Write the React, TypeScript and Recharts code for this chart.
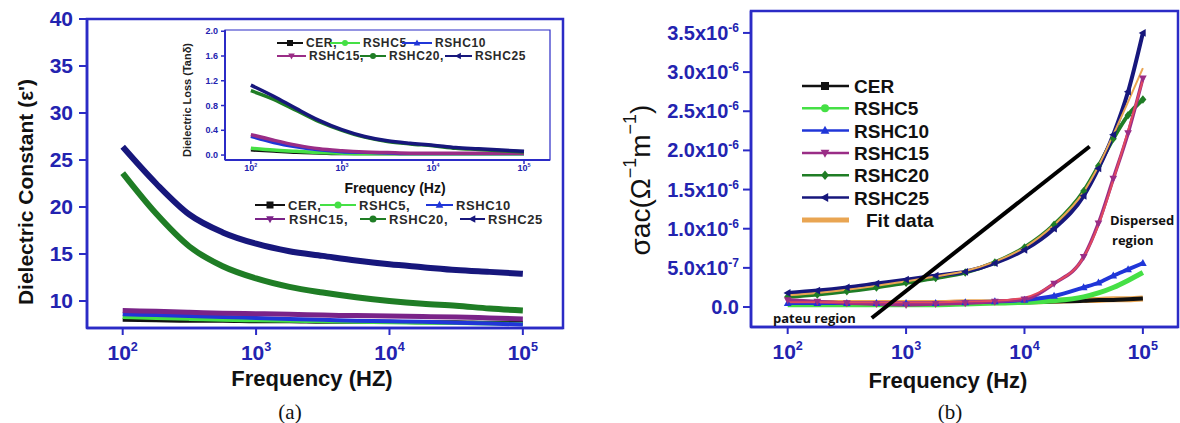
import React from 'react';
import { LineChart, Line, XAxis, YAxis, ReferenceLine, ReferenceArea } from 'recharts';

// ---- panel (a): dielectric constant vs frequency ----
const freqA = [100, 178, 316, 562, 1000, 1778, 3162, 5623, 10000, 17783, 31623, 56234, 100000];
const epsCER = [8.0, 7.95, 7.9, 7.9, 7.85, 7.85, 7.8, 7.8, 7.8, 7.75, 7.75, 7.7, 7.7];
const epsR5 = [8.3, 8.2, 8.1, 8.0, 7.95, 7.9, 7.85, 7.8, 7.75, 7.7, 7.65, 7.6, 7.55];
const epsR10 = [8.6, 8.5, 8.4, 8.3, 8.2, 8.1, 8.0, 7.9, 7.85, 7.8, 7.7, 7.6, 7.5];
const epsR15 = [9.0, 8.9, 8.8, 8.7, 8.65, 8.6, 8.5, 8.45, 8.4, 8.35, 8.3, 8.2, 8.1];
const epsR20 = [23.6, 19.3, 15.8, 13.7, 12.4, 11.5, 10.9, 10.4, 10.0, 9.7, 9.5, 9.2, 9.0];
const epsR25 = [26.4, 22.5, 19.2, 17.3, 16.1, 15.3, 14.8, 14.3, 13.9, 13.6, 13.3, 13.1, 12.9];

// inset: dielectric loss (tan delta)
const tanCER = [0.08, 0.06, 0.04, 0.03, 0.02, 0.02, 0.02, 0.02, 0.02, 0.02, 0.02, 0.02, 0.02];
const tanR5 = [0.11, 0.08, 0.06, 0.04, 0.03, 0.02, 0.02, 0.02, 0.02, 0.02, 0.02, 0.02, 0.02];
const tanR10 = [0.3, 0.2, 0.13, 0.08, 0.05, 0.04, 0.03, 0.02, 0.02, 0.02, 0.02, 0.02, 0.02];
const tanR15 = [0.33, 0.24, 0.16, 0.1, 0.07, 0.05, 0.04, 0.03, 0.03, 0.03, 0.03, 0.03, 0.03];
const tanR20 = [1.04, 0.9, 0.72, 0.54, 0.4, 0.29, 0.22, 0.18, 0.15, 0.11, 0.09, 0.07, 0.05];
const tanR25 = [1.13, 0.95, 0.75, 0.56, 0.41, 0.3, 0.23, 0.19, 0.16, 0.12, 0.1, 0.08, 0.06];

// ---- panel (b): ac conductivity, in units of 1e-6 S/m ----
const freqB = [100, 178, 316, 562, 1000, 1778, 3162, 5623, 10000, 17783, 31623, 42170, 56234, 74989, 100000];
const sigCER = [0.04, 0.04, 0.04, 0.04, 0.04, 0.04, 0.05, 0.05, 0.06, 0.07, 0.08, 0.09, 0.09, 0.1, 0.11];
const sigR5 = [0.03, 0.03, 0.03, 0.03, 0.03, 0.03, 0.04, 0.05, 0.06, 0.08, 0.13, 0.18, 0.25, 0.34, 0.44];
const sigR10 = [0.05, 0.05, 0.05, 0.05, 0.05, 0.05, 0.06, 0.07, 0.09, 0.14, 0.25, 0.31, 0.4, 0.48, 0.56];
const sigR15 = [0.09, 0.07, 0.05, 0.04, 0.03, 0.04, 0.05, 0.07, 0.1, 0.3, 0.64, 1.07, 1.64, 2.22, 2.92];
const sigR20 = [0.13, 0.16, 0.2, 0.25, 0.31, 0.37, 0.44, 0.57, 0.76, 1.05, 1.48, 1.8, 2.15, 2.45, 2.65];
const sigR25 = [0.18, 0.21, 0.25, 0.3, 0.35, 0.4, 0.45, 0.56, 0.73, 1.0, 1.42, 1.77, 2.2, 2.75, 3.5];
const fitHigh = [0.15, 0.18, 0.22, 0.27, 0.33, 0.39, 0.46, 0.58, 0.76, 1.05, 1.47, 1.8, 2.2, 2.62, 3.05];
const fitMid = [0.06, 0.06, 0.06, 0.06, 0.06, 0.06, 0.07, 0.08, 0.12, 0.3, 0.64, 1.05, 1.62, 2.25, 2.9];
const fitLow = [0.05, 0.05, 0.05, 0.05, 0.05, 0.05, 0.06, 0.06, 0.07, 0.08, 0.09, 0.09, 0.1, 0.1, 0.11];

const decades = [100, 1000, 10000, 100000];
const epsTicks = [10, 15, 20, 25, 30, 35, 40];
const tanTicks = [0, 0.2, 0.4, 0.6, 0.8, 1.0, 1.2, 1.4, 1.6, 1.8, 2.0];
const sigTicks = [0, 0.5, 1.0, 1.5, 2.0, 2.5, 3.0, 3.5];

// axis ranges
const domA = { x: [54, 200000], y: [7.13, 40] };
const domIn = { x: [52, 193000], y: [-0.08, 2.02] };
const domB = { x: [49, 198000], y: [-0.255, 3.78] };

const mainRows = freqA.map((f, i) => ({
  f, cer: epsCER[i], r5: epsR5[i], r10: epsR10[i], r15: epsR15[i], r20: epsR20[i], r25: epsR25[i],
}));
const insetRows = freqA.map((f, i) => ({
  f, cer: tanCER[i], r5: tanR5[i], r10: tanR10[i], r15: tanR15[i], r20: tanR20[i], r25: tanR25[i],
}));
const condRows = freqB.map((f, i) => ({
  f, cer: sigCER[i], r5: sigR5[i], r10: sigR10[i], r15: sigR15[i], r20: sigR20[i], r25: sigR25[i],
  fh: fitHigh[i], fm: fitMid[i], fl: fitLow[i],
}));

const FONT = '"Liberation Sans", Arial, Helvetica, sans-serif';
const AXIS = '#2b2bc6';
const TICK = '#2323b0';
const COL = {
  cer: '#111111', r5: '#45e045', r10: '#2036d8', r15: '#7a2388', r20: '#1f7d25', r25: '#17177c',
  r15b: '#9a2d86', fit: '#e9a552', fitRed: '#e2495f',
};

function Marker({ shape, cx, cy, s, color }: any) {
  if (shape === 'square') return <rect x={cx - s} y={cy - s} width={2 * s} height={2 * s} fill={color} />;
  if (shape === 'circle') return <circle cx={cx} cy={cy} r={s} fill={color} />;
  if (shape === 'triUp')
    return <polygon points={`${cx},${cy - s * 1.2} ${cx + s * 1.1},${cy + s * 0.8} ${cx - s * 1.1},${cy + s * 0.8}`} fill={color} />;
  if (shape === 'triDown')
    return <polygon points={`${cx},${cy + s * 1.2} ${cx + s * 1.1},${cy - s * 0.8} ${cx - s * 1.1},${cy - s * 0.8}`} fill={color} />;
  if (shape === 'triLeft')
    return <polygon points={`${cx - s * 1.2},${cy} ${cx + s * 0.8},${cy - s * 1.1} ${cx + s * 0.8},${cy + s * 1.1}`} fill={color} />;
  return <polygon points={`${cx},${cy - s * 1.2} ${cx + s},${cy} ${cx},${cy + s * 1.2} ${cx - s},${cy}`} fill={color} />;
}

function DecadeTick({ x, y, payload, size, dy }: any) {
  const exp = Math.round(Math.log10(payload.value));
  return (
    <text x={x} y={y + dy} textAnchor="middle" fontFamily={FONT} fontWeight="bold" fontSize={size} fill={TICK}>
      10<tspan fontSize={size * 0.6} dy={-size * 0.45}>{exp}</tspan>
    </text>
  );
}

function SciTick({ x, y, payload }: any) {
  const v = payload.value;
  if (v === 0) {
    return (
      <text x={x} y={y + 7} textAnchor="end" fontFamily={FONT} fontWeight="bold" fontSize={20} fill={TICK}>0.0</text>
    );
  }
  const real = v * 1e-6;
  const exp = Math.floor(Math.log10(real) + 1e-9);
  const mant = real / Math.pow(10, exp);
  return (
    <text x={x} y={y + 7} textAnchor="end" fontFamily={FONT} fontWeight="bold" fontSize={20} fill={TICK}>
      {mant.toFixed(1)}x10<tspan fontSize={12} dy={-8}>{`-${-exp}`}</tspan>
    </text>
  );
}

// box round the plot area
const frame = (d: any, w: number) => (
  <ReferenceArea x1={d.x[0]} x2={d.x[1]} y1={d.y[0]} y2={d.y[1]} fill="none" fillOpacity={0}
    stroke={AXIS} strokeWidth={w} ifOverflow="visible" />
);

const legendA = [
  { y: 205, x1: 255, x2: 285, tx: 288, label: 'CER,', key: 'cer', shape: 'square' },
  { y: 205, x1: 320, x2: 356, tx: 359, label: 'RSHC5,', key: 'r5', shape: 'circle' },
  { y: 205, x1: 426, x2: 453, tx: 456, label: 'RSHC10', key: 'r10', shape: 'triUp' },
  { y: 219, x1: 255, x2: 285, tx: 289, label: 'RSHC15,', key: 'r15', shape: 'triDown' },
  { y: 219, x1: 360, x2: 386, tx: 389, label: 'RSHC20,', key: 'r20', shape: 'circle' },
  { y: 219, x1: 460, x2: 485, tx: 488, label: 'RSHC25', key: 'r25', shape: 'triLeft' },
];
const legendInset = [
  { y: 43, x1: 277, x2: 303, tx: 306, label: 'CER,', key: 'cer', shape: 'square' },
  { y: 43, x1: 330, x2: 360, tx: 363, label: 'RSHC5', key: 'r5', shape: 'circle' },
  { y: 43, x1: 402, x2: 432, tx: 435, label: 'RSHC10', key: 'r10', shape: 'triUp' },
  { y: 56, x1: 277, x2: 306, tx: 309, label: 'RSHC15,', key: 'r15b', shape: 'triDown' },
  { y: 56, x1: 360, x2: 386, tx: 389, label: 'RSHC20,', key: 'r20', shape: 'circle' },
  { y: 56, x1: 445, x2: 472, tx: 475, label: 'RSHC25', key: 'r25', shape: 'triLeft' },
];
const legendB = [
  { label: 'CER', key: 'cer', shape: 'square' },
  { label: 'RSHC5', key: 'r5', shape: 'circle' },
  { label: 'RSHC10', key: 'r10', shape: 'triUp' },
  { label: 'RSHC15', key: 'r15b', shape: 'triDown' },
  { label: 'RSHC20', key: 'r20', shape: 'diamond' },
  { label: 'RSHC25', key: 'r25', shape: 'triLeft' },
];

function InlineLegend({ items, size, ms }: any) {
  return (
    <g>
      {items.map((it: any) => (
        <g key={it.label}>
          <line x1={it.x1} x2={it.x2} y1={it.y} y2={it.y} stroke={(COL as any)[it.key]} strokeWidth={2} />
          <Marker shape={it.shape} cx={(it.x1 + it.x2) / 2} cy={it.y} s={ms} color={(COL as any)[it.key]} />
          <text x={it.tx} y={it.y + size * 0.36} fontFamily={FONT} fontWeight="bold" fontSize={size} fill="#2a2a2a"
            letterSpacing={0.6}>{it.label}</text>
        </g>
      ))}
    </g>
  );
}

const condDot = (shape: string, color: string) => (p: any) =>
  <Marker key={p.index} shape={shape} cx={p.cx} cy={p.cy} s={3.5} color={color} />;

export default function App() {
  return (
    <div style={{ position: 'absolute', left: 0, top: 0, width: 1180, height: 423, background: '#fff', overflow: 'hidden' }}>
      {/* (a) main */}
      <div style={{ position: 'absolute', left: 0, top: 0 }}>
        <LineChart width={580} height={423} data={mainRows} margin={{ top: 19, right: 17, bottom: 0, left: 0 }}>
          <XAxis dataKey="f" type="number" scale="log" domain={domA.x} allowDataOverflow ticks={decades}
            interval={0} height={95} tickSize={7} tick={<DecadeTick size={21} dy={23} />}
            tickLine={{ stroke: AXIS, strokeWidth: 2 }} axisLine={{ stroke: AXIS, strokeWidth: 2.5 }} />
          <YAxis type="number" domain={domA.y} allowDataOverflow ticks={epsTicks} width={87} tickSize={8}
            tickMargin={6} tick={{ fill: TICK, fontSize: 21, fontWeight: 'bold', fontFamily: FONT }}
            tickLine={{ stroke: AXIS, strokeWidth: 2 }} axisLine={{ stroke: AXIS, strokeWidth: 2.5 }} />
          {frame(domA, 2.5)}
          <Line type="monotone" dataKey="cer" stroke={COL.cer} strokeWidth={4} dot={false} isAnimationActive={false} />
          <Line type="monotone" dataKey="r5" stroke={COL.r5} strokeWidth={4} dot={false} isAnimationActive={false} />
          <Line type="monotone" dataKey="r10" stroke={COL.r10} strokeWidth={4} dot={false} isAnimationActive={false} />
          <Line type="monotone" dataKey="r15" stroke={COL.r15} strokeWidth={5} dot={false} isAnimationActive={false} />
          <Line type="monotone" dataKey="r20" stroke={COL.r20} strokeWidth={6} dot={false} isAnimationActive={false} />
          <Line type="monotone" dataKey="r25" stroke={COL.r25} strokeWidth={6} dot={false} isAnimationActive={false} />
        </LineChart>
      </div>

      {/* (a) inset */}
      <div style={{ position: 'absolute', left: 150, top: 0 }}>
        <LineChart width={410} height={200} data={insetRows} margin={{ top: 30, right: 10, bottom: 0, left: 0 }}>
          <XAxis dataKey="f" type="number" scale="log" domain={domIn.x} allowDataOverflow ticks={decades}
            interval={0} height={40} tickSize={4} tick={<DecadeTick size={9} dy={5} />}
            tickLine={{ stroke: AXIS, strokeWidth: 1.5 }} axisLine={{ stroke: AXIS, strokeWidth: 2 }} />
          <YAxis type="number" domain={domIn.y} allowDataOverflow ticks={tanTicks} width={75} tickSize={4}
            tickMargin={3} tickFormatter={(v: number) => v.toFixed(1)}
            tick={{ fill: TICK, fontSize: 9, fontWeight: 'bold', fontFamily: FONT }}
            tickLine={{ stroke: AXIS, strokeWidth: 1.5 }} axisLine={{ stroke: AXIS, strokeWidth: 2 }} />
          {frame(domIn, 1.2)}
          <Line type="monotone" dataKey="cer" stroke={COL.cer} strokeWidth={3} dot={false} isAnimationActive={false} />
          <Line type="monotone" dataKey="r5" stroke={COL.r5} strokeWidth={3.5} dot={false} isAnimationActive={false} />
          <Line type="monotone" dataKey="r10" stroke={COL.r10} strokeWidth={3} dot={false} isAnimationActive={false} />
          <Line type="monotone" dataKey="r15" stroke={COL.r15b} strokeWidth={3.5} dot={false} isAnimationActive={false} />
          <Line type="monotone" dataKey="r20" stroke={COL.r20} strokeWidth={3.5} dot={false} isAnimationActive={false} />
          <Line type="monotone" dataKey="r25" stroke={COL.r25} strokeWidth={3.5} dot={false} isAnimationActive={false} />
        </LineChart>
      </div>

      {/* (b) conductivity */}
      <div style={{ position: 'absolute', left: 600, top: 0 }}>
        <LineChart width={580} height={423} data={condRows} margin={{ top: 11, right: 2, bottom: 0, left: 0 }}>
          <XAxis dataKey="f" type="number" scale="log" domain={domB.x} allowDataOverflow ticks={decades}
            interval={0} height={96} tickSize={7} tick={<DecadeTick size={21} dy={23} />}
            tickLine={{ stroke: AXIS, strokeWidth: 2 }} axisLine={{ stroke: AXIS, strokeWidth: 2.5 }} />
          <YAxis type="number" domain={domB.y} allowDataOverflow ticks={sigTicks} width={151} tickSize={8}
            tickMargin={4} tick={<SciTick />}
            tickLine={{ stroke: AXIS, strokeWidth: 2 }} axisLine={{ stroke: AXIS, strokeWidth: 2.5 }} />
          {frame(domB, 2.5)}
          <Line type="monotone" dataKey="fl" stroke={COL.fit} strokeWidth={6} dot={false} isAnimationActive={false} />
          <Line type="monotone" dataKey="cer" stroke={COL.cer} strokeWidth={4} dot={false} isAnimationActive={false} />
          <Line type="monotone" dataKey="r5" stroke={COL.r5} strokeWidth={5} dot={false} isAnimationActive={false} />
          <Line type="monotone" dataKey="r10" stroke={COL.r10} strokeWidth={4} dot={condDot('triUp', COL.r10)} isAnimationActive={false} />
          <Line type="monotone" dataKey="r20" stroke={COL.r20} strokeWidth={4} dot={condDot('diamond', COL.r20)} isAnimationActive={false} />
          <Line type="monotone" dataKey="r25" stroke={COL.r25} strokeWidth={4} dot={condDot('triLeft', COL.r25)} isAnimationActive={false} />
          <Line type="monotone" dataKey="fh" stroke={COL.fit} strokeWidth={2} dot={false} isAnimationActive={false} />
          <Line type="monotone" dataKey="r15" stroke={COL.r15b} strokeWidth={3.5} dot={condDot('triDown', COL.r15b)} isAnimationActive={false} />
          <Line type="monotone" dataKey="fm" stroke={COL.fitRed} strokeWidth={2} dot={false} isAnimationActive={false} />
          <ReferenceLine segment={[{ x: 513, y: -0.14 }, { x: 35500, y: 2.05 }]} stroke="#000" strokeWidth={4} />
        </LineChart>
      </div>

      {/* titles, legends, annotations */}
      <svg width={1180} height={423} style={{ position: 'absolute', left: 0, top: 0, pointerEvents: 'none' }}>
        <text x={25} y={192} transform="rotate(-90 25 192)" textAnchor="middle" dominantBaseline="central"
          fontFamily={FONT} fontWeight="bold" fontSize={21} fill="#111">Dielectric Constant (ε')</text>
        <text x={312} y={386} textAnchor="middle" fontFamily={FONT} fontWeight="bold" fontSize={22} fill="#111">Frequency (HZ)</text>
        <text x={290} y={419} textAnchor="middle" fontFamily='"Liberation Serif", "Times New Roman", serif' fontSize={21} fill="#111">(a)</text>

        <text x={187} y={100} transform="rotate(-90 187 100)" textAnchor="middle" dominantBaseline="central"
          fontFamily={FONT} fontWeight="bold" fontSize={11} fill="#222">Dielectric Loss (Tanδ)</text>
        <text x={395} y={193} textAnchor="middle" fontFamily={FONT} fontWeight="bold" fontSize={14} fill="#111">Frequency (Hz)</text>
        <InlineLegend items={legendInset} size={12} ms={3} />
        <InlineLegend items={legendA} size={13} ms={3.5} />

        <text x={640} y={180} transform="rotate(-90 640 180)" textAnchor="middle" dominantBaseline="central"
          fontFamily={FONT} fontSize={28} fill="#111">
          σac(Ω<tspan fontSize={18} dy={-10}>−1</tspan><tspan dy={10}>m</tspan><tspan fontSize={18} dy={-10}>−1</tspan><tspan dy={10}>)</tspan>
        </text>
        <text x={948} y={388} textAnchor="middle" fontFamily={FONT} fontWeight="bold" fontSize={22} fill="#111">Frequency (Hz)</text>
        <text x={950} y={419} textAnchor="middle" fontFamily='"Liberation Serif", "Times New Roman", serif' fontSize={21} fill="#111">(b)</text>

        {legendB.map((it, i) => {
          const y = 86 + i * 22.3;
          const c = (COL as any)[it.key];
          return (
            <g key={it.label}>
              <line x1={802} x2={849} y1={y} y2={y} stroke={c} strokeWidth={2.5} />
              <Marker shape={it.shape} cx={825} cy={y} s={4} color={c} />
              <text x={854} y={y + 7} fontFamily={FONT} fontWeight="bold" fontSize={19} fill="#111">{it.label}</text>
            </g>
          );
        })}
        <line x1={802} x2={849} y1={220} y2={220} stroke={COL.fit} strokeWidth={5} />
        <text x={866} y={227} fontFamily={FONT} fontWeight="bold" fontSize={19} fill="#111">Fit data</text>

        <text x={773} y={323} fontFamily='"Open Sans", sans-serif' fontWeight="bold" fontSize={13} fill="#111">pateu region</text>
        <text x={1110} y={225} fontFamily='"Open Sans", sans-serif' fontWeight="bold" fontSize={13} fill="#111">Dispersed</text>
        <text x={1112} y={245} fontFamily='"Open Sans", sans-serif' fontWeight="bold" fontSize={13} fill="#111">region</text>
      </svg>
    </div>
  );
}
